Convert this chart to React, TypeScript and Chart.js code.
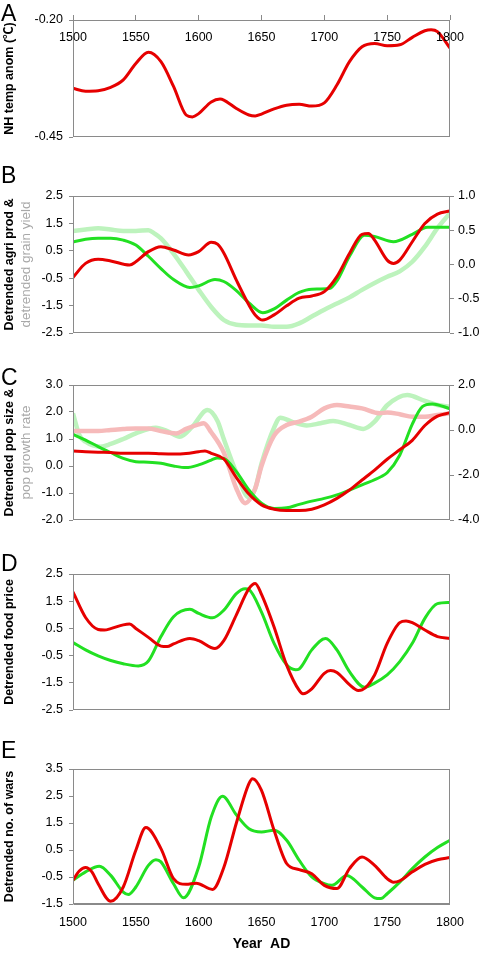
import React, { useEffect, useRef } from "react";
import { Chart, registerables } from "chart.js";

Chart.register(...registerables);

// ---------------- data ----------------
const yearTicks = [1500, 1550, 1600, 1650, 1700, 1750, 1800];

// A: NH temperature anomaly
const tempYears = [1500, 1510, 1520, 1530, 1540, 1550, 1560, 1570, 1580, 1590, 1595, 1600, 1610, 1617, 1620, 1630, 1640, 1645, 1650, 1660, 1670, 1680, 1690, 1700, 1710, 1720, 1730, 1740, 1750, 1760, 1770, 1780, 1785, 1790, 1800];
const tempValues = [-0.346, -0.352, -0.351, -0.344, -0.328, -0.293, -0.269, -0.289, -0.342, -0.403, -0.407, -0.4, -0.375, -0.369, -0.371, -0.389, -0.403, -0.405, -0.401, -0.39, -0.382, -0.38, -0.384, -0.377, -0.339, -0.289, -0.257, -0.25, -0.255, -0.253, -0.237, -0.223, -0.221, -0.225, -0.26];
const tempTicks = [-0.45, -0.2];

// B: agricultural production (left) & grain yield (right)
const agriRedYears = [1500, 1510, 1520, 1530, 1545, 1550, 1560, 1570, 1580, 1592, 1600, 1610, 1615, 1620, 1630, 1640, 1645, 1651, 1660, 1670, 1680, 1690, 1700, 1710, 1720, 1730, 1735, 1740, 1750, 1755, 1760, 1770, 1780, 1790, 1800];
const agriRedValues = [-0.47, 0.04, 0.19, 0.13, -0.02, 0.1, 0.47, 0.65, 0.53, 0.35, 0.47, 0.81, 0.74, 0.42, -0.57, -1.48, -1.84, -2.03, -1.84, -1.51, -1.23, -1.15, -0.99, -0.44, 0.4, 1.1, 1.13, 0.89, 0.16, 0.04, 0.16, 0.83, 1.5, 1.84, 1.95];
const agriGreenYears = [1500, 1510, 1520, 1530, 1540, 1550, 1560, 1570, 1580, 1593, 1600, 1613, 1620, 1630, 1640, 1651, 1660, 1670, 1680, 1690, 1704, 1710, 1720, 1732, 1740, 1755, 1770, 1782, 1800];
const agriGreenValues = [0.82, 0.92, 0.96, 0.96, 0.89, 0.71, 0.3, -0.15, -0.55, -0.84, -0.78, -0.55, -0.62, -0.95, -1.4, -1.76, -1.62, -1.3, -1.02, -0.9, -0.88, -0.6, 0.3, 1.07, 1.02, 0.83, 1.1, 1.36, 1.36];
const grainYears = [1500, 1510, 1520, 1530, 1540, 1550, 1560, 1565, 1570, 1580, 1590, 1600, 1610, 1620, 1630, 1640, 1650, 1660, 1670, 1680, 1690, 1700, 1710, 1720, 1730, 1740, 1750, 1760, 1770, 1780, 1790, 1800];
const grainValues = [0.49, 0.51, 0.53, 0.51, 0.49, 0.49, 0.5, 0.45, 0.38, 0.16, -0.1, -0.37, -0.62, -0.81, -0.88, -0.89, -0.89, -0.91, -0.91, -0.86, -0.76, -0.66, -0.57, -0.48, -0.37, -0.27, -0.18, -0.1, 0.04, 0.26, 0.53, 0.75];
const agriTicks = [-2.5, -1.5, -0.5, 0.5, 1.5, 2.5];
const grainTicks = [-1, -0.5, 0, 0.5, 1];

// C: population size (left) & growth rate (right)
const popRedYears = [1500, 1510, 1520, 1530, 1540, 1550, 1560, 1570, 1580, 1590, 1600, 1605, 1610, 1620, 1630, 1640, 1650, 1660, 1670, 1680, 1690, 1700, 1710, 1720, 1730, 1740, 1750, 1760, 1770, 1780, 1790, 1800];
const popRedValues = [0.56, 0.53, 0.51, 0.5, 0.47, 0.47, 0.47, 0.45, 0.44, 0.46, 0.53, 0.56, 0.47, 0.26, -0.43, -1.04, -1.44, -1.6, -1.65, -1.65, -1.6, -1.44, -1.2, -0.89, -0.52, -0.15, 0.25, 0.6, 0.95, 1.5, 1.85, 1.97];
const popGreenYears = [1500, 1510, 1520, 1530, 1540, 1550, 1560, 1570, 1580, 1590, 1600, 1610, 1615, 1620, 1630, 1640, 1650, 1660, 1670, 1680, 1690, 1700, 1710, 1720, 1730, 1745, 1750, 1760, 1770, 1778, 1786, 1800];
const popGreenValues = [1.17, 0.96, 0.72, 0.5, 0.28, 0.16, 0.14, 0.1, 0.0, -0.06, 0.04, 0.22, 0.3, 0.28, -0.21, -0.89, -1.38, -1.57, -1.55, -1.42, -1.3, -1.2, -1.07, -0.89, -0.7, -0.4, -0.25, 0.4, 1.55, 2.2, 2.3, 2.12];
const growthGreenYears = [1500, 1505, 1510, 1522, 1530, 1540, 1550, 1566, 1575, 1585, 1595, 1607, 1615, 1620, 1630, 1640, 1645, 1650, 1660, 1665, 1675, 1686, 1697, 1707, 1720, 1731, 1740, 1750, 1766, 1780, 1790, 1800];
const growthGreenValues = [0.74, -0.22, -0.52, -0.74, -0.62, -0.4, -0.15, 0.1, -0.05, -0.3, 0.15, 0.89, 0.4, -0.4, -1.9, -3.0, -2.6, -1.5, 0.1, 0.55, 0.35, 0.2, 0.3, 0.4, 0.22, 0.05, 0.37, 1.1, 1.56, 1.29, 1.11, 1.04];
const growthRedYears = [1500, 1510, 1520, 1530, 1540, 1550, 1560, 1570, 1582, 1590, 1600, 1604, 1610, 1620, 1630, 1637, 1645, 1650, 1660, 1670, 1680, 1690, 1700, 1710, 1720, 1730, 1744, 1750, 1760, 1770, 1780, 1790, 1800];
const growthRedValues = [-0.04, -0.04, -0.04, 0.0, 0.04, 0.07, 0.07, -0.05, -0.15, 0.05, 0.25, 0.3, -0.1, -1.0, -2.6, -3.25, -2.6, -1.6, -0.25, 0.22, 0.37, 0.59, 0.96, 1.11, 1.04, 0.96, 0.74, 0.78, 0.7, 0.59, 0.59, 0.67, 0.74];
const popTicks = [-2, -1, 0, 1, 2, 3];
const growthTicks = [-4, -2, 0, 2];

// D: food price
const priceRedYears = [1500, 1510, 1520, 1525, 1530, 1540, 1545, 1550, 1560, 1570, 1575, 1580, 1593, 1600, 1613, 1620, 1630, 1640, 1645, 1650, 1660, 1670, 1680, 1683, 1690, 1700, 1705, 1710, 1720, 1727, 1730, 1740, 1750, 1760, 1765, 1770, 1780, 1790, 1800];
const priceRedValues = [1.84, 0.9, 0.46, 0.44, 0.49, 0.63, 0.66, 0.5, 0.17, -0.15, -0.17, -0.07, 0.13, 0.05, -0.24, 0.05, 1.0, 1.96, 2.15, 1.75, 0.55, -0.85, -1.78, -1.9, -1.72, -1.15, -1.05, -1.12, -1.57, -1.78, -1.76, -1.21, -0.05, 0.71, 0.77, 0.71, 0.44, 0.2, 0.13];
const priceGreenYears = [1500, 1510, 1520, 1530, 1540, 1552, 1560, 1570, 1580, 1593, 1600, 1611, 1620, 1630, 1637, 1640, 1650, 1660, 1670, 1677, 1680, 1690, 1701, 1710, 1720, 1732, 1740, 1750, 1760, 1770, 1780, 1790, 1800];
const priceGreenValues = [-0.02, -0.29, -0.51, -0.68, -0.8, -0.88, -0.7, 0.2, 0.93, 1.2, 1.05, 0.89, 1.17, 1.78, 1.96, 1.93, 1.1, -0.05, -0.84, -1.02, -0.99, -0.29, 0.13, -0.29, -1.09, -1.66, -1.51, -1.21, -0.72, -0.05, 0.87, 1.41, 1.45];
const priceTicks = [-2.5, -1.5, -0.5, 0.5, 1.5, 2.5];

// E: number of wars
const warRedYears = [1500, 1505, 1510, 1515, 1520, 1530, 1540, 1550, 1558, 1570, 1580, 1590, 1598, 1611, 1620, 1630, 1640, 1643, 1650, 1660, 1670, 1680, 1690, 1700, 1710, 1720, 1730, 1740, 1750, 1755, 1760, 1770, 1780, 1790, 1800];
const warRedValues = [-0.62, -0.28, -0.15, -0.31, -0.75, -1.4, -0.87, 0.49, 1.33, 0.55, -0.56, -0.77, -0.73, -0.96, -0.15, 1.5, 2.96, 3.14, 2.71, 1.23, 0.0, -0.23, -0.38, -0.81, -0.93, -0.19, 0.24, -0.07, -0.56, -0.69, -0.64, -0.31, -0.03, 0.14, 0.22];
const warGreenYears = [1500, 1510, 1521, 1530, 1540, 1544, 1550, 1560, 1566, 1570, 1580, 1588, 1600, 1610, 1619, 1630, 1640, 1650, 1660, 1670, 1680, 1690, 1700, 1706, 1718, 1730, 1740, 1745, 1750, 1760, 1770, 1780, 1790, 1800];
const warGreenValues = [-0.62, -0.31, -0.1, -0.44, -1.06, -1.15, -0.87, -0.07, 0.14, 0.06, -0.75, -1.27, -0.13, 1.72, 2.49, 1.8, 1.29, 1.17, 1.23, 0.86, 0.12, -0.5, -0.75, -0.81, -0.44, -0.87, -1.27, -1.3, -1.12, -0.69, -0.19, 0.24, 0.59, 0.86];
const warTicks = [-1.5, -0.5, 0.5, 1.5, 2.5, 3.5];

// ---------------- styling ----------------
const FONT = "'Liberation Sans', Arial, Helvetica, 'Noto Sans CJK SC', sans-serif";
const RED = "#e60000";
const GREEN = "#22e022";
const LIGHT_GREEN = "#bdf3bd";
const PINK = "#f6baba";
const AXIS = "#8a8a8a";
const TICK_FONT = { family: FONT, size: 12.5 };

const series = (years: number[], values: number[], color: string, width: number, yAxisID = "y") => ({
  data: years.map((x, i) => ({ x, y: values[i] })),
  borderColor: color,
  backgroundColor: color,
  borderWidth: width,
  pointRadius: 0,
  cubicInterpolationMode: "monotone",
  fill: false,
  yAxisID,
});

const yAxis = (position: "left" | "right", ticks: number[], decimals: number, width: number) => ({
  type: "linear",
  position,
  min: ticks[0],
  max: ticks[ticks.length - 1],
  afterBuildTicks: (s: any) => {
    s.ticks = ticks.map((v) => ({ value: v }));
  },
  afterFit: (s: any) => {
    s.width = width;
  },
  ticks: {
    font: TICK_FONT,
    color: "#000",
    padding: position === "left" ? 6 : 4,
    autoSkip: false,
    callback: (v: any) => Number(v).toFixed(decimals),
  },
  grid: { display: true, drawOnChartArea: false, drawTicks: true, tickLength: 4, color: AXIS },
  border: { display: false },
});

const hiddenX = {
  type: "linear",
  min: 1500,
  max: 1800,
  display: false,
};

type Txt = { text: string; x: number; y?: number; rotate?: boolean; font: string; color: string };

const extrasPlugin = {
  id: "extras",
  afterDraw(chart: any, _args: any, opts: any) {
    const { ctx, chartArea: ca } = chart;
    ctx.save();
    // frame
    ctx.strokeStyle = AXIS;
    ctx.lineWidth = 1;
    const l = Math.floor(ca.left) + 0.5;
    const r = Math.floor(ca.right) - 0.5;
    const t = Math.floor(ca.top) + 0.5;
    const b = Math.floor(ca.bottom) - 0.5;
    ctx.strokeRect(l, t, r - l, b - t);
    if (opts.thickBottom) {
      ctx.lineWidth = 2;
      ctx.beginPath();
      ctx.moveTo(l, Math.floor(ca.bottom));
      ctx.lineTo(r + 0.5, Math.floor(ca.bottom));
      ctx.stroke();
    }
    // year labels drawn inside the plot, under the top axis (panel A)
    if (opts.insideTopLabels) {
      const xs = chart.scales.x;
      ctx.font = `12.5px ${FONT}`;
      ctx.fillStyle = "#000";
      ctx.textAlign = "center";
      ctx.textBaseline = "middle";
      for (const tk of xs.ticks) {
        ctx.fillText(String(tk.value), xs.getPixelForValue(tk.value), ca.top + opts.insideTopLabels);
      }
    }
    // texts
    const texts: Txt[] = opts.texts || [];
    for (const it of texts) {
      ctx.font = it.font;
      ctx.fillStyle = it.color;
      ctx.textBaseline = "alphabetic";
      if (it.rotate) {
        const cy = (ca.top + ca.bottom) / 2;
        ctx.save();
        ctx.translate(it.x, cy);
        ctx.rotate(-Math.PI / 2);
        ctx.textAlign = "center";
        ctx.fillText(it.text, 0, 0);
        ctx.restore();
      } else {
        ctx.textAlign = "left";
        ctx.fillText(it.text, it.x, it.y || 0);
      }
    }
    ctx.restore();
  },
};

const LETTER_FONT = `23px ${FONT}`;
const TITLE_BOLD = `bold 12.5px ${FONT}`;
const TITLE_GRAY = `13.5px ${FONT}`;
const GRAY_TEXT = "#a8a8a8";

const baseOptions = (padding: any, scales: any, texts: Txt[], extra: any = {}) => ({
  responsive: false,
  animation: false,
  devicePixelRatio: 1,
  events: [],
  layout: { padding },
  scales,
  plugins: {
    legend: { display: false },
    tooltip: { enabled: false },
    title: { display: false },
    extras: { texts, ...extra },
  },
});

// ---------------- panel configs ----------------
const panelA = {
  top: 0,
  height: 160,
  config: {
    type: "line",
    data: { datasets: [series(tempYears, tempValues, RED, 3)] },
    options: baseOptions(
      { left: 0, right: 30, top: 0, bottom: 23 },
      {
        x: {
          type: "linear",
          position: "top",
          min: 1500,
          max: 1800,
          afterBuildTicks: (s: any) => {
            s.ticks = yearTicks.map((v) => ({ value: v }));
          },
          afterFit: (s: any) => {
            s.height = 20;
          },
          ticks: { display: false, autoSkip: false },
          grid: { display: true, drawOnChartArea: false, drawTicks: true, tickLength: 5, color: AXIS },
          border: { display: false },
        },
        y: yAxis("left", tempTicks, 2, 73),
      },
      [
        { text: "A", x: 1, y: 21, font: LETTER_FONT, color: "#000" },
        { text: "NH temp anom (℃)", x: 13, rotate: true, font: TITLE_BOLD, color: "#000" },
      ],
      { insideTopLabels: 18 }
    ),
  },
};

const panelB = {
  top: 160,
  height: 190,
  config: {
    type: "line",
    data: {
      datasets: [
        series(agriRedYears, agriRedValues, RED, 3),
        series(agriGreenYears, agriGreenValues, GREEN, 3),
        series(grainYears, grainValues, LIGHT_GREEN, 4.5, "y2"),
      ],
    },
    options: baseOptions(
      { left: 0, right: 0, top: 36, bottom: 17 },
      {
        x: hiddenX,
        y: yAxis("left", agriTicks, 1, 73),
        y2: yAxis("right", grainTicks, 1, 30),
      },
      [
        { text: "B", x: 1, y: 23.3, font: LETTER_FONT, color: "#000" },
        { text: "Detrended agri prod &", x: 13, rotate: true, font: TITLE_BOLD, color: "#000" },
        { text: "detrended grain yield", x: 30, rotate: true, font: TITLE_GRAY, color: GRAY_TEXT },
      ]
    ),
  },
};

const panelC = {
  top: 350,
  height: 190,
  config: {
    type: "line",
    data: {
      datasets: [
        series(popRedYears, popRedValues, RED, 3),
        series(popGreenYears, popGreenValues, GREEN, 3),
        series(growthRedYears, growthRedValues, PINK, 4.5, "y2"),
        series(growthGreenYears, growthGreenValues, LIGHT_GREEN, 4.5, "y2"),
      ],
    },
    options: baseOptions(
      { left: 0, right: 0, top: 35, bottom: 20 },
      {
        x: hiddenX,
        y: yAxis("left", popTicks, 1, 73),
        y2: yAxis("right", growthTicks, 1, 30),
      },
      [
        { text: "C", x: 1, y: 34.5, font: LETTER_FONT, color: "#000" },
        { text: "Detrended pop size &", x: 13, rotate: true, font: TITLE_BOLD, color: "#000" },
        { text: "pop growth rate", x: 30, rotate: true, font: TITLE_GRAY, color: GRAY_TEXT },
      ]
    ),
  },
};

const panelD = {
  top: 540,
  height: 190,
  config: {
    type: "line",
    data: {
      datasets: [series(priceRedYears, priceRedValues, RED, 3), series(priceGreenYears, priceGreenValues, GREEN, 3)],
    },
    options: baseOptions(
      { left: 0, right: 30, top: 34, bottom: 20 },
      {
        x: hiddenX,
        y: yAxis("left", priceTicks, 1, 73),
      },
      [
        { text: "D", x: 1, y: 30.5, font: LETTER_FONT, color: "#000" },
        { text: "Detrended food price", x: 13, rotate: true, font: TITLE_BOLD, color: "#000" },
      ]
    ),
  },
};

const panelE = {
  top: 730,
  height: 224,
  config: {
    type: "line",
    data: {
      datasets: [series(warRedYears, warRedValues, RED, 3), series(warGreenYears, warGreenValues, GREEN, 3)],
    },
    options: baseOptions(
      { left: 0, right: 30, top: 39, bottom: 0 },
      {
        x: {
          type: "linear",
          position: "bottom",
          min: 1500,
          max: 1800,
          afterBuildTicks: (s: any) => {
            s.ticks = yearTicks.map((v) => ({ value: v }));
          },
          afterFit: (s: any) => {
            s.height = 50;
          },
          ticks: { font: TICK_FONT, color: "#000", padding: 11, autoSkip: false, maxRotation: 0, callback: (v: any) => String(v) },
          grid: { display: false, drawTicks: false },
          border: { display: false },
          title: {
            display: true,
            text: "Year  AD",
            color: "#000",
            font: { family: FONT, size: 14, weight: "bold" },
            padding: { top: 0, bottom: 1 },
          },
        },
        y: yAxis("left", warTicks, 1, 73),
      },
      [
        { text: "E", x: 1, y: 27.7, font: LETTER_FONT, color: "#000" },
        { text: "Detrended no. of wars", x: 13, rotate: true, font: TITLE_BOLD, color: "#000" },
      ],
      { thickBottom: true }
    ),
  },
};

const panels = [panelA, panelB, panelC, panelD, panelE];

function Panel({ top, height, config }: { top: number; height: number; config: any }) {
  const ref = useRef<HTMLCanvasElement>(null);
  useEffect(() => {
    if (!ref.current) return;
    const chart = new Chart(ref.current, { ...config, plugins: [extrasPlugin] } as any);
    return () => chart.destroy();
  }, [config]);
  return (
    <canvas
      ref={ref}
      width={480}
      height={height}
      style={{ position: "absolute", left: 0, top, width: 480, height, display: "block" }}
    />
  );
}

export default function App() {
  return (
    <div style={{ position: "absolute", left: 0, top: 0, width: 480, height: 954, background: "#fff", overflow: "hidden" }}>
      {panels.map((p, i) => (
        <Panel key={i} top={p.top} height={p.height} config={p.config} />
      ))}
    </div>
  );
}
